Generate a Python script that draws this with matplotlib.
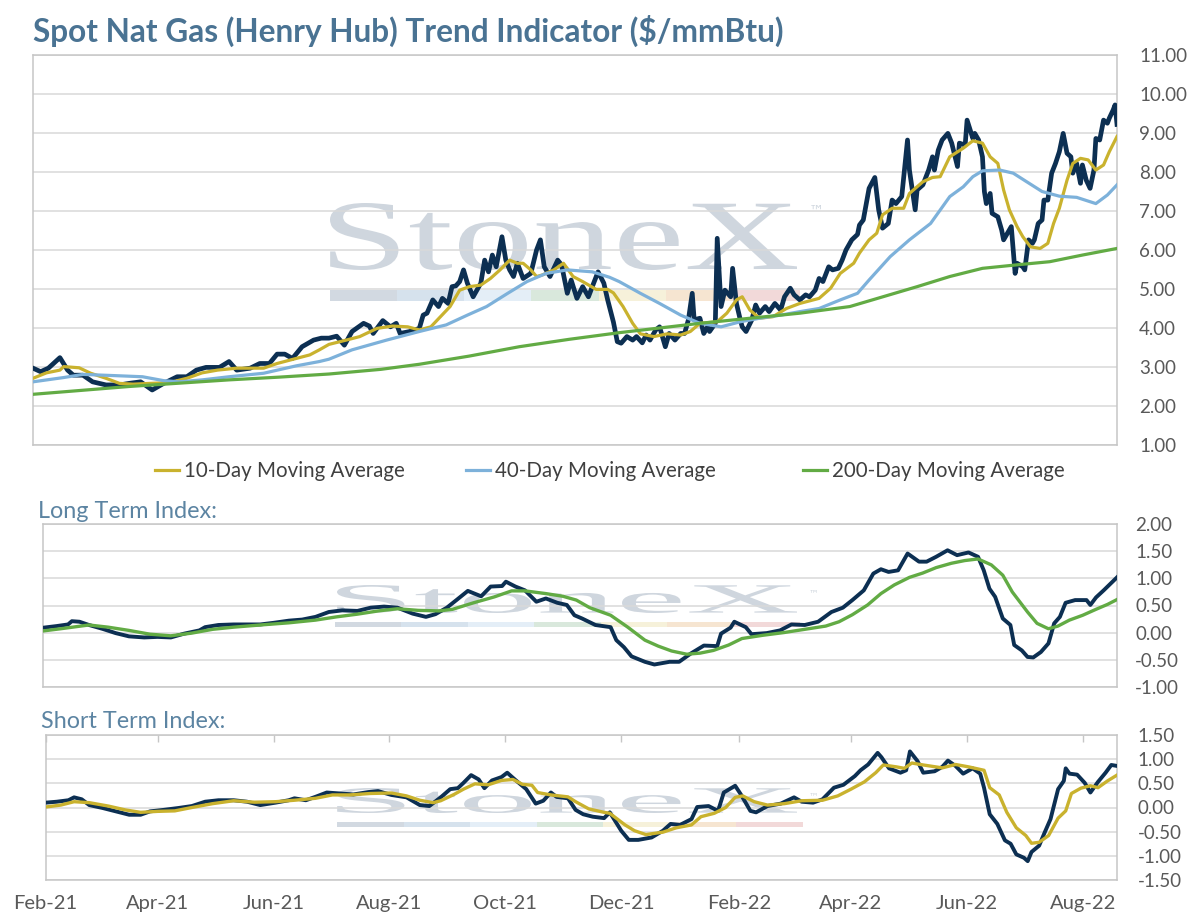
import numpy as np
import pandas as pd
import matplotlib
matplotlib.use("Agg")
import matplotlib.pyplot as plt
from matplotlib.ticker import FuncFormatter
from matplotlib.textpath import TextPath
from matplotlib.patches import PathPatch, Rectangle
from matplotlib.font_manager import FontProperties
from matplotlib.lines import Line2D
import matplotlib.transforms as mtransforms

plt.rcParams['font.family'] = ['Lato', 'DejaVu Sans']

# ---------------- data ----------------
START = "2021-02-01"          # first observation
END_DAY = 564                 # last observation (days after START)

TITLE = "Spot Nat Gas (Henry Hub) Trend Indicator ($/mmBtu)"
LEGEND_LABELS = ["10-Day Moving Average", "40-Day Moving Average", "200-Day Moving Average"]
X_TICK_DATES = ["2021-02-01", "2021-04-01", "2021-06-01", "2021-08-01", "2021-10-01",
                "2021-12-01", "2022-02-01", "2022-04-01", "2022-06-01", "2022-08-01"]
X_TICK_LABELS = ["Feb-21", "Apr-21", "Jun-21", "Aug-21", "Oct-21",
                 "Dec-21", "Feb-22", "Apr-22", "Jun-22", "Aug-22"]

# Spot price (days after START, $/mmBtu)
spot_day = [0, 4, 8, 14, 18, 21, 26, 31, 38, 45,
            50, 56, 62, 68, 75, 80, 85, 90, 97, 102,
            106, 113, 118, 123, 127, 131, 135, 140, 146, 150,
            154, 158, 162, 166, 172, 175, 177, 182, 186, 189,
            191, 196, 201, 203, 205, 208, 211, 213, 216, 218,
            220, 222, 224, 226, 229, 233, 235, 237, 239, 241,
            244, 246, 248, 250, 252, 255, 259, 262, 264, 266,
            269, 273, 275, 278, 280, 283, 286, 289, 291, 294,
            297, 299, 302, 304, 306, 309, 312, 314, 317, 319,
            321, 324, 326, 329, 331, 334, 337, 339, 341, 343,
            344, 347, 349, 351, 352, 355, 356, 358, 360, 363,
            364, 366, 368, 369, 371, 374, 376, 378, 381, 383,
            386, 389, 391, 394, 396, 399, 402, 404, 407, 409,
            411, 414, 416, 419, 421, 423, 426, 429, 430, 432,
            434, 435, 438, 440, 442, 445, 447, 449, 452, 455,
            456, 459, 460, 463, 466, 468, 469, 471, 473, 476,
            478, 481, 482, 485, 486, 489, 490, 492, 494, 495,
            496, 498, 499, 502, 504, 505, 507, 509, 511, 512,
            515, 516, 518, 520, 521, 523, 525, 526, 528, 530,
            532, 534, 536, 538, 540, 541, 543, 545, 546, 548,
            550, 552, 553, 555, 557, 559, 560, 562, 563, 564]
spot_val = [2.97, 2.88, 2.97, 3.24, 2.92, 2.79, 2.79, 2.62, 2.54, 2.54,
            2.58, 2.62, 2.41, 2.58, 2.75, 2.75, 2.92, 2.99, 2.99, 3.14,
            2.92, 2.97, 3.09, 3.09, 3.33, 3.33, 3.22, 3.52, 3.69, 3.74,
            3.74, 3.79, 3.56, 3.91, 4.12, 4.05, 3.86, 4.19, 4.03, 4.12,
            3.86, 3.91, 3.99, 4.33, 4.38, 4.72, 4.55, 4.76, 4.63, 5.06,
            5.08, 5.19, 5.49, 5.15, 4.80, 5.15, 5.74, 5.44, 5.87, 5.57,
            6.34, 5.74, 5.49, 5.32, 5.66, 5.27, 5.40, 6.00, 6.26, 5.57,
            5.32, 5.74, 5.62, 4.89, 5.23, 4.76, 5.06, 4.80, 5.06, 5.44,
            5.15, 4.72, 4.15, 3.65, 3.61, 3.78, 3.69, 3.78, 3.62, 3.82,
            3.69, 3.95, 4.03, 3.52, 3.86, 3.69, 3.86, 3.86, 4.21, 4.89,
            4.21, 4.25, 3.86, 4.03, 3.91, 4.12, 6.30, 4.55, 4.97, 4.80,
            5.53, 4.63, 4.21, 4.03, 3.91, 4.21, 4.59, 4.38, 4.55, 4.42,
            4.63, 4.46, 4.80, 5.02, 4.85, 4.72, 4.85, 4.80, 4.97, 5.27,
            5.19, 5.57, 5.49, 5.53, 5.74, 6.00, 6.26, 6.40, 6.64, 6.77,
            7.30, 7.58, 7.86, 7.03, 6.56, 6.68, 7.28, 7.19, 7.37, 8.82,
            8.05, 7.03, 7.54, 7.67, 8.05, 8.39, 8.05, 8.56, 8.82, 8.99,
            8.74, 8.14, 8.74, 8.69, 9.33, 8.86, 8.99, 8.82, 8.39, 7.50,
            7.19, 7.45, 6.94, 6.85, 6.51, 6.26, 6.43, 6.60, 5.40, 5.66,
            5.57, 5.49, 6.26, 6.17, 6.26, 6.68, 6.77, 7.28, 7.28, 7.97,
            8.22, 8.52, 8.99, 8.48, 8.39, 7.97, 8.22, 7.71, 8.18, 7.79,
            7.58, 8.05, 8.86, 8.82, 9.33, 9.25, 9.38, 9.59, 9.72, 9.22]

# 10-day moving average
ma10_day = [0, 7, 14, 16, 24, 30, 38, 45, 52, 61,
            71, 80, 88, 96, 106, 120, 127, 137, 144, 149,
            154, 163, 170, 179, 187, 195, 201, 207, 212, 217,
            222, 227, 233, 238, 243, 248, 252, 255, 259, 262,
            265, 271, 276, 281, 286, 293, 299, 302, 307, 312,
            316, 323, 330, 337, 342, 347, 356, 361, 366, 369,
            373, 378, 385, 392, 399, 409, 415, 420, 427, 430,
            435, 439, 442, 447, 453, 456, 463, 468, 472, 477,
            484, 489, 494, 498, 502, 505, 508, 512, 515, 519,
            524, 528, 531, 534, 538, 541, 545, 549, 553, 557,
            560, 564]
ma10_val = [2.71, 2.85, 2.92, 3.01, 2.98, 2.84, 2.71, 2.58, 2.56, 2.58,
            2.60, 2.71, 2.85, 2.92, 2.97, 2.97, 3.09, 3.22, 3.31, 3.44,
            3.58, 3.69, 3.78, 3.99, 4.05, 4.03, 3.95, 4.03, 4.29, 4.55,
            4.97, 5.06, 5.10, 5.27, 5.49, 5.74, 5.66, 5.66, 5.49, 5.32,
            5.36, 5.49, 5.66, 5.32, 5.19, 4.99, 4.99, 4.90, 4.55, 4.12,
            3.85, 3.78, 3.85, 3.82, 3.91, 4.12, 4.16, 4.38, 4.72, 4.80,
            4.46, 4.25, 4.29, 4.50, 4.63, 4.76, 5.02, 5.40, 5.66, 5.92,
            6.26, 6.43, 6.90, 7.07, 7.07, 7.45, 7.75, 7.86, 7.88, 8.39,
            8.61, 8.80, 8.74, 8.39, 8.22, 7.54, 7.03, 6.60, 6.34, 6.08,
            6.04, 6.17, 6.68, 7.07, 7.79, 8.22, 8.35, 8.31, 8.05, 8.18,
            8.52, 8.91]

# 40-day moving average
ma40_day = [0, 16, 26, 42, 57, 68, 76, 88, 102, 120,
            137, 149, 154, 166, 184, 201, 215, 226, 236, 247,
            257, 267, 278, 291, 300, 305, 316, 326, 337, 347,
            358, 368, 378, 389, 399, 409, 420, 429, 435, 446,
            456, 467, 477, 484, 489, 494, 503, 510, 517, 525,
            534, 543, 553, 559, 564]
ma40_val = [2.62, 2.73, 2.81, 2.78, 2.75, 2.65, 2.62, 2.67, 2.75, 2.84,
            3.03, 3.14, 3.20, 3.44, 3.69, 3.91, 4.08, 4.33, 4.55, 4.89,
            5.19, 5.40, 5.49, 5.44, 5.30, 5.19, 4.89, 4.63, 4.33, 4.12,
            4.03, 4.16, 4.25, 4.33, 4.42, 4.50, 4.72, 4.89, 5.23, 5.83,
            6.26, 6.68, 7.37, 7.62, 7.88, 8.03, 8.05, 7.97, 7.75, 7.50,
            7.38, 7.35, 7.19, 7.41, 7.67]

# 200-day moving average
ma200_day = [0, 50, 102, 128, 154, 181, 201, 227, 253, 279, 305,
             347, 399, 425, 460, 477, 494, 512, 529, 546, 564]
ma200_val = [2.30, 2.50, 2.67, 2.74, 2.82, 2.94, 3.07, 3.28, 3.52, 3.71, 3.88,
             4.12, 4.38, 4.55, 5.06, 5.32, 5.53, 5.62, 5.70, 5.87, 6.04]

# Long term index and its signal
lt_day = [0, 7, 13, 15, 19, 24, 31, 38, 45, 53,
          60, 67, 74, 82, 85, 92, 100, 107, 114, 121,
          129, 136, 143, 150, 157, 165, 172, 179, 186, 194,
          201, 206, 212, 217, 223, 230, 235, 241, 243, 248,
          253, 259, 264, 270, 275, 279, 283, 290, 298, 301,
          305, 309, 316, 321, 329, 334, 340, 347, 354, 356,
          361, 363, 369, 372, 380, 387, 393, 400, 407, 414,
          420, 425, 431, 436, 440, 444, 449, 454, 460, 464,
          469, 475, 480, 486, 491, 494, 497, 500, 504, 508,
          510, 514, 517, 520, 524, 528, 531, 534, 537, 542,
          548, 550, 553, 557, 564]
lt_val = [0.09, 0.12, 0.15, 0.21, 0.20, 0.14, 0.07, -0.01, -0.07, -0.09,
          -0.08, -0.09, -0.02, 0.04, 0.10, 0.14, 0.15, 0.15, 0.15, 0.18,
          0.22, 0.24, 0.29, 0.38, 0.41, 0.40, 0.46, 0.48, 0.46, 0.35,
          0.29, 0.34, 0.46, 0.60, 0.77, 0.67, 0.85, 0.86, 0.94, 0.85,
          0.78, 0.57, 0.63, 0.55, 0.51, 0.32, 0.26, 0.14, 0.10, -0.14,
          -0.27, -0.44, -0.54, -0.59, -0.54, -0.54, -0.39, -0.24, -0.25, -0.02,
          0.09, 0.20, 0.10, -0.03, -0.01, 0.04, 0.15, 0.14, 0.20, 0.38,
          0.46, 0.60, 0.78, 1.09, 1.17, 1.12, 1.15, 1.46, 1.31, 1.31,
          1.40, 1.52, 1.43, 1.48, 1.40, 1.15, 0.81, 0.66, 0.26, 0.14,
          -0.23, -0.33, -0.45, -0.46, -0.36, -0.20, 0.17, 0.29, 0.55, 0.60,
          0.60, 0.51, 0.65, 0.78, 1.02]
lt_sig_day = [0, 9, 24, 34, 45, 56, 67, 78, 89, 100,
              114, 129, 143, 154, 165, 176, 186, 197, 208, 215,
              226, 237, 246, 253, 264, 273, 280, 287, 298, 307,
              316, 323, 330, 338, 345, 352, 360, 367, 378, 389,
              400, 411, 418, 425, 433, 440, 447, 455, 462, 469,
              477, 484, 491, 498, 504, 509, 517, 522, 528, 533,
              539, 546, 553, 559, 564]
lt_sig_val = [0.03, 0.07, 0.14, 0.10, 0.04, -0.03, -0.06, -0.01, 0.06, 0.10,
              0.14, 0.18, 0.23, 0.29, 0.34, 0.40, 0.44, 0.41, 0.40, 0.43,
              0.55, 0.66, 0.77, 0.77, 0.72, 0.67, 0.60, 0.46, 0.32, 0.10,
              -0.14, -0.25, -0.34, -0.40, -0.38, -0.33, -0.23, -0.11, -0.05, 0.00,
              0.06, 0.12, 0.20, 0.33, 0.51, 0.72, 0.88, 1.02, 1.10, 1.20,
              1.28, 1.33, 1.36, 1.25, 1.06, 0.75, 0.38, 0.17, 0.07, 0.12,
              0.23, 0.32, 0.43, 0.52, 0.61]

# Short term index and its signal
st_day = [0, 6, 12, 15, 19, 23, 30, 37, 44, 50,
          55, 62, 70, 77, 84, 91, 99, 106, 113, 121,
          128, 131, 137, 142, 148, 155, 162, 170, 175, 182,
          190, 197, 202, 208, 213, 217, 220, 224, 228, 231,
          235, 240, 243, 247, 253, 258, 262, 266, 269, 275,
          279, 283, 288, 294, 297, 303, 307, 312, 319, 325,
          329, 334, 340, 343, 349, 354, 357, 363, 366, 371,
          374, 380, 387, 394, 398, 404, 409, 415, 420, 426,
          429, 433, 438, 440, 444, 450, 453, 455, 459, 462,
          468, 472, 475, 479, 483, 488, 492, 494, 497, 501,
          505, 508, 511, 515, 517, 519, 523, 526, 529, 533,
          536, 537, 539, 543, 547, 550, 554, 558, 561, 564]
st_val = [0.10, 0.12, 0.15, 0.21, 0.17, 0.05, -0.01, -0.08, -0.15, -0.15,
          -0.08, -0.05, -0.01, 0.03, 0.12, 0.15, 0.15, 0.12, 0.05, 0.10,
          0.15, 0.19, 0.15, 0.22, 0.31, 0.29, 0.27, 0.32, 0.34, 0.26,
          0.21, 0.05, 0.03, 0.21, 0.38, 0.40, 0.51, 0.67, 0.58, 0.40,
          0.56, 0.63, 0.72, 0.58, 0.38, 0.08, 0.14, 0.31, 0.22, 0.19,
          -0.05, -0.14, -0.19, -0.22, -0.10, -0.48, -0.67, -0.67, -0.62, -0.48,
          -0.34, -0.36, -0.24, 0.01, 0.03, -0.07, 0.31, 0.45, 0.27, -0.07,
          -0.10, 0.03, 0.08, 0.21, 0.12, 0.10, 0.17, 0.41, 0.47, 0.65,
          0.77, 0.89, 1.13, 1.04, 0.81, 0.72, 0.77, 1.16, 0.96, 0.72,
          0.75, 0.84, 0.97, 0.86, 0.70, 0.81, 0.70, 0.41, -0.14, -0.34,
          -0.68, -0.75, -0.97, -1.04, -1.11, -0.92, -0.79, -0.51, -0.24, 0.38,
          0.55, 0.81, 0.70, 0.68, 0.51, 0.31, 0.53, 0.72, 0.88, 0.86]
st_sig_day = [0, 8, 15, 23, 33, 42, 50, 59, 68, 77,
              88, 99, 110, 121, 131, 142, 151, 160, 171, 182,
              190, 197, 204, 208, 215, 220, 226, 233, 240, 246,
              251, 256, 259, 266, 275, 279, 286, 294, 297, 305,
              310, 316, 325, 332, 340, 345, 352, 358, 363, 367,
              373, 380, 389, 398, 409, 417, 424, 431, 437, 441,
              448, 452, 456, 462, 472, 479, 486, 494, 497, 502,
              506, 511, 516, 519, 523, 528, 533, 537, 540, 545,
              550, 554, 559, 564]
st_sig_val = [0.01, 0.05, 0.12, 0.10, 0.03, -0.05, -0.10, -0.08, -0.07, 0.00,
              0.08, 0.14, 0.11, 0.12, 0.15, 0.19, 0.26, 0.26, 0.29, 0.30,
              0.24, 0.15, 0.10, 0.14, 0.27, 0.38, 0.49, 0.47, 0.56, 0.58,
              0.48, 0.46, 0.31, 0.26, 0.22, 0.12, -0.03, -0.10, -0.12, -0.36,
              -0.48, -0.56, -0.51, -0.42, -0.36, -0.19, -0.12, 0.00, 0.21, 0.24,
              0.12, 0.05, 0.08, 0.14, 0.15, 0.24, 0.38, 0.53, 0.72, 0.88,
              0.84, 0.81, 0.92, 0.88, 0.82, 0.89, 0.84, 0.77, 0.41, 0.26,
              -0.10, -0.42, -0.58, -0.74, -0.72, -0.58, -0.22, -0.07, 0.29, 0.40,
              0.45, 0.41, 0.55, 0.67]

# ---------------- styling ----------------
NAVY = '#0c2f52'
YELLOW = '#c9b22e'
LBLUE = '#7db1da'
GREEN = '#62ab44'
GRID = '#d9d9d9'
SPINE = '#c6c6c6'
TICKC = '#595959'
TITLEC = '#4a7393'
SUBC = '#5c84a2'
WM = '#cfd6de'

W, H = 1199, 924
start = pd.Timestamp(START)


def to_dates(days):
    return start + pd.to_timedelta(np.asarray(days), unit='D')


fig = plt.figure(figsize=(W / 100, H / 100), dpi=100)


def px_rect(l, t, r, b):
    return [l / W, 1 - b / H, (r - l) / W, (b - t) / H]


def style(ax, ylim, yticks, fs, pad):
    ax.set_facecolor('none')
    ax.set_xlim(to_dates([0])[0], to_dates([END_DAY])[0])
    ax.set_ylim(*ylim)
    ax.set_yticks(yticks)
    ax.yaxis.tick_right()
    ax.yaxis.set_major_formatter(FuncFormatter(lambda v, p: f"{v:.2f}"))
    ax.tick_params(axis='y', length=0, pad=pad, labelsize=fs, labelcolor=TICKC)
    ax.grid(axis='y', color=GRID, lw=1.1)
    ax.set_axisbelow(True)
    for s in ax.spines.values():
        s.set_color(SPINE)
        s.set_linewidth(1.1)


# --- watermark (decorative, behind axes) ---
def watermark(x0, x1, ytop, ybase, bar_t, bar_b, bar_x0, bar_x1, tm_size):
    prop = FontProperties(family='Liberation Serif')
    tp = TextPath((0, 0), 'StoneX', size=100, prop=prop)
    bb = tp.get_extents()
    sx = (x1 - x0) / bb.width
    sy = (ybase - ytop) / bb.height
    tr = (mtransforms.Affine2D().translate(-bb.x0, -bb.y0)
          .scale(sx, sy).translate(x0, H - ybase))
    fig.add_artist(PathPatch(tp, transform=tr, facecolor=WM, edgecolor='none', zorder=-2))
    bar_cols = ['#d2d9e1', '#d6e2ed', '#e4eef7', '#d9e8dc', '#f6f1da', '#f6e5d1', '#f2d9d9']
    segw = (bar_x1 - bar_x0) / len(bar_cols)
    for i, c in enumerate(bar_cols):
        fig.add_artist(Rectangle(((bar_x0 + i * segw) / W, 1 - bar_b / H), segw / W,
                                 (bar_b - bar_t) / H, transform=fig.transFigure,
                                 facecolor=c, edgecolor='none', zorder=-2))
    fig.text((x1 + 12) / W, 1 - (ytop + 8) / H, '\u2122', fontsize=tm_size, color=WM,
             ha='left', va='center', zorder=-2, family='DejaVu Sans')


watermark(330, 797, 203, 270, 290, 301, 330, 800, 11)
watermark(337, 797, 585, 613, 622, 627, 335, 800, 7)
watermark(337, 797, 788, 813, 822, 827, 337, 803, 7)

# --- top panel ---
ax1 = fig.add_axes(px_rect(33, 55, 1117, 445))
style(ax1, (1, 11), np.arange(1, 12, 1), 13.5, 16)
ax1.set_xticks([])
ax1.plot(to_dates(spot_day), spot_val, color=NAVY, lw=3.4, solid_joinstyle='round', zorder=3)
ax1.plot(to_dates(ma10_day), ma10_val, color=YELLOW, lw=2.3, solid_joinstyle='round', zorder=4)
ax1.plot(to_dates(ma40_day), ma40_val, color=LBLUE, lw=2.3, solid_joinstyle='round', zorder=4)
ax1.plot(to_dates(ma200_day), ma200_val, color=GREEN, lw=2.3, solid_joinstyle='round', zorder=4)

# legend: one entry per slot, placed like the source legend
for col, lab, xs in zip((YELLOW, LBLUE, GREEN), LEGEND_LABELS, (155, 466, 803)):
    h = Line2D([], [], color=col, lw=2.3)
    fig.legend([h], [lab], loc='center left', bbox_to_anchor=(xs / W, 1 - 471 / H),
               frameon=False, fontsize=14.8, handlelength=1.15, handletextpad=0.25,
               borderpad=0, borderaxespad=0, labelcolor='#404040')

fig.text(33 / W, 1 - 31 / H, TITLE, fontsize=22.8, fontweight='bold', color=TITLEC,
         ha='left', va='center')

# --- long term panel ---
fig.text(38 / W, 1 - 511 / H, "Long Term Index:", fontsize=16.8, color=SUBC,
         ha='left', va='center')
ax2 = fig.add_axes(px_rect(43.3, 524.3, 1117, 686.7))
style(ax2, (-1, 2), np.arange(-1, 2.01, 0.5), 13.5, 13)
ax2.set_xticks([])
ax2.plot(to_dates(lt_day), lt_val, color=NAVY, lw=2.8, solid_joinstyle='round', zorder=3)
ax2.plot(to_dates(lt_sig_day), lt_sig_val, color=GREEN, lw=2.4, solid_joinstyle='round', zorder=4)

# --- short term panel ---
fig.text(41 / W, 1 - 721 / H, "Short Term Index:", fontsize=16.8, color=SUBC,
         ha='left', va='center')
ax3 = fig.add_axes(px_rect(45.6, 735, 1117, 880))
style(ax3, (-1.5, 1.5), np.arange(-1.5, 1.51, 0.5), 13.5, 15)
ax3.set_xticks(pd.to_datetime(X_TICK_DATES))
ax3.set_xticklabels(X_TICK_LABELS)
ax3.tick_params(axis='x', bottom=False, top=True, direction='in', length=5, width=1,
                color=SPINE, labelbottom=True, labeltop=False, labelsize=14.5,
                labelcolor=TICKC, pad=11)
ax3.plot(to_dates(st_day), st_val, color=NAVY, lw=2.8, solid_joinstyle='round', zorder=3)
ax3.plot(to_dates(st_sig_day), st_sig_val, color=YELLOW, lw=2.4, solid_joinstyle='round', zorder=4)

fig.savefig("out.png", dpi=100, facecolor='white')
